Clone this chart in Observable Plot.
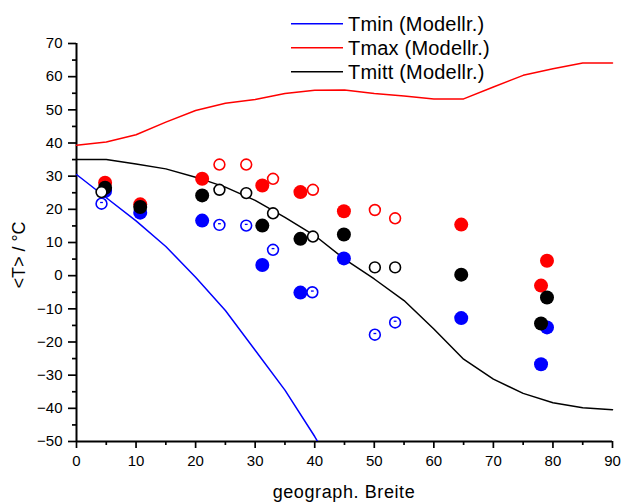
<!DOCTYPE html>
<html><head><meta charset="utf-8">
<script src="https://cdn.jsdelivr.net/npm/d3@7"></script>
<script src="https://cdn.jsdelivr.net/npm/@observablehq/plot@0.6"></script>
<style>
body{margin:0;background:#fff}
#chart{position:relative;width:622px;height:503px}
</style>
</head><body><div id="chart"></div>
<script>
// Model curves
const modelLat  = [0,5,10,15,20,25,30,35,40,45,50,55,60,65,70,75,80,85,90];
const tminLat   = [0,5,10,15,20,25,30,35,40,45];
const tminModel = [30.5,23.5,16.5,8.8,-0.5,-10.5,-22.5,-34.5,-48.5,-64];
const tmaxModel = [39.3,40.3,42.5,46.3,49.8,52,53.1,54.9,55.9,56,54.9,54.2,53.3,53.3,56.9,60.4,62.4,64.1,64.1];
const tmittModel= [35,35,33.7,32.2,29.7,26.7,22.7,17.6,12.1,5.0,-1.0,-7.5,-16.1,-25.2,-31.2,-35.5,-38.3,-39.8,-40.4];

// Measured (filled)
const filledLat   = [4.8,10.7,21.1,31.2,37.6,44.9,64.6,79.0,78.0];
const filledMax   = [28,21.5,29.2,27.2,25.2,19.4,15.4,4.5,-3.0];
const filledMitt  = [26.5,20.7,24.2,15.1,11.1,12.4,0.3,-6.6,-14.4];
const filledMin   = [25.5,19,16.6,3.2,-5.1,5.2,-12.8,-15.6,-26.7];

// Measured (open)
const openMaxLat  = [24.0,28.5,33.0,39.7,50.1,53.5];
const openMax     = [33.5,33.5,29.2,25.9,19.8,17.3];
const openMittLat = [4.2,24.0,28.5,33.0,39.7,50.1,53.5];
const openMitt    = [25.2,25.9,24.9,18.8,11.8,2.5,2.5];
const openMinLat  = [4.2,24.0,28.5,33.0,39.6,50.1,53.5];
const openMin     = [21.7,15.3,15.1,7.8,-5.0,-17.8,-14.1];

const legendItems = ["Tmin (Modellr.)","Tmax (Modellr.)","Tmitt (Modellr.)"];
const legendColors = ["#0000ff","#ff0000","#000000"];

const xTicks = d3.range(0,91,10), xMinor = d3.range(5,91,10);
const yTicks = d3.range(-50,71,10), yMinor = d3.range(-45,71,10);

const pts = (xs, ys) => xs.map((x,i)=>({x, y: ys[i]}));
const dashSym = {draw(ctx){ ctx.moveTo(-1.4,-1.2); ctx.lineTo(1.4,-1.2); }};

const plot = Plot.plot({
  width: 622, height: 503,
  marginLeft: 76, marginRight: 10, marginTop: 43, marginBottom: 62,
  x: {domain:[0,90]},
  y: {domain:[-50,70]},
  style: {fontFamily: "'Liberation Sans', Arial, sans-serif", fontSize: "15px", color: "#000", background: "#fff", overflow: "visible"},
  marks: [
    Plot.axisX({ticks: xTicks, tickSize: 7, tickPadding: 7, strokeWidth: 1.7, label: null, fontSize: 15}),
    Plot.axisX({ticks: xMinor, tickSize: 4, strokeWidth: 1.7, text: null, label: null}),
    Plot.axisY({ticks: yTicks, tickSize: 8, tickPadding: 6, strokeWidth: 1.7, label: null, fontSize: 15}),
    Plot.axisY({ticks: yMinor, tickSize: 4, strokeWidth: 1.7, text: null, label: null}),
    Plot.ruleX([0], {stroke: "#000", strokeWidth: 2}),
    Plot.ruleY([-50], {stroke: "#000", strokeWidth: 2}),
    Plot.line(pts(tminLat, tminModel), {x:"x", y:"y", stroke:"#0000ff", strokeWidth:1.5, clip:true}),
    Plot.line(pts(modelLat, tmaxModel), {x:"x", y:"y", stroke:"#ff0000", strokeWidth:1.5}),
    Plot.line(pts(modelLat, tmittModel), {x:"x", y:"y", stroke:"#000000", strokeWidth:1.5}),
    Plot.dot(pts(filledLat, filledMax), {x:"x", y:"y", r:7, fill:"#ff0000"}),
    Plot.dot(pts(filledLat, filledMin), {x:"x", y:"y", r:7, fill:"#0000ff"}),
    Plot.dot(pts(filledLat, filledMitt), {x:"x", y:"y", r:7, fill:"#000000"}),
    Plot.dot(pts(openMaxLat, openMax), {x:"x", y:"y", r:5.4, fill:"#fff", stroke:"#ff0000", strokeWidth:1.6}),
    Plot.dot(pts(openMinLat, openMin), {x:"x", y:"y", r:5.4, fill:"#fff", stroke:"#0000ff", strokeWidth:1.6}),
    Plot.dot(pts(openMinLat, openMin), {x:"x", y:"y", symbol: dashSym, fill:"none", stroke:"#0000ff", strokeWidth:1.3}),
    Plot.dot(pts(openMittLat, openMitt), {x:"x", y:"y", r:5.4, fill:"#fff", stroke:"#000000", strokeWidth:1.6})
  ]
});

const svg = d3.select(plot);
const ff = "'Liberation Sans', Arial, sans-serif";
// axis titles
svg.append("text").attr("x", 344).attr("y", 498).attr("text-anchor","middle")
  .attr("font-family", ff).attr("font-size", 18).attr("letter-spacing", "0.6px").attr("fill","#000")
  .text("geograph. Breite");
svg.append("text").attr("transform","translate(25,255) rotate(-90)").attr("text-anchor","middle")
  .attr("font-family", ff).attr("font-size", 18).attr("fill","#000")
  .text("<T> / °C");
// legend
const lg = svg.append("g");
legendItems.forEach((t,i)=>{
  const y = 23.7 + i*24;
  lg.append("line").attr("x1",291).attr("x2",343).attr("y1",y).attr("y2",y)
    .attr("stroke",legendColors[i]).attr("stroke-width",1.5);
  lg.append("text").attr("x",348).attr("y",y+7.5).attr("text-anchor","start")
    .attr("font-family",ff).attr("font-size",20).attr("letter-spacing","0.2px")
    .attr("fill","#000").text(t);
});

document.getElementById("chart").appendChild(plot);
</script>
</body></html>
